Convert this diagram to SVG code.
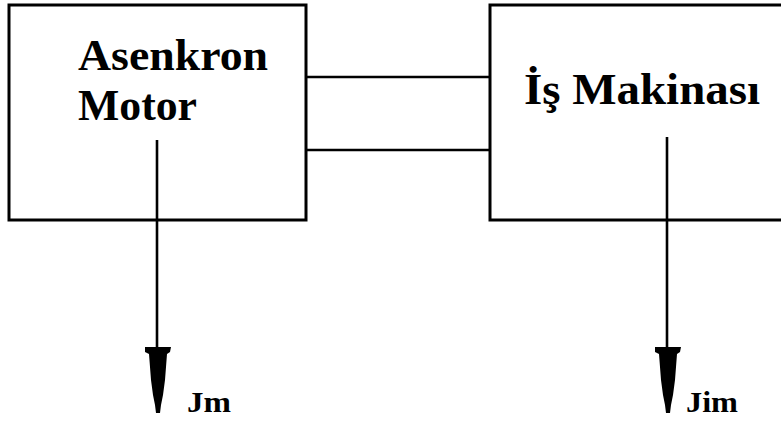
<svg xmlns="http://www.w3.org/2000/svg" xmlns:xlink="http://www.w3.org/1999/xlink" width="781" height="427" viewBox="0 0 781 427">
<style>
.box{fill:#fff;stroke:#000;stroke-width:3}
.ln{stroke:#000;stroke-width:2.6;fill:none}
text{font-family:'Liberation Serif','DejaVu Serif',serif;font-weight:bold;fill:#000}
.big{font-size:44px}
.lab{font-size:30px}
</style>
<defs>
<path id="head" d="M-12,0 H14 L13,5 L10,7 L8,33 L6,48 L4,58 L3,66 H-1 L-2,58 L-4,48 L-6,33 L-8,7 L-12,5 Z" fill="#000"/>
</defs>
<g id="motor">
<rect class="box" x="9" y="5" width="297" height="215"/>
<text class="big" x="78" y="70" textLength="190" lengthAdjust="spacingAndGlyphs">Asenkron</text>
<text class="big" x="78" y="120" textLength="119" lengthAdjust="spacingAndGlyphs">Motor</text>
</g>
<g id="makina">
<rect class="box" x="490" y="5" width="320" height="215"/>
<text class="big" x="524" y="104" textLength="236" lengthAdjust="spacingAndGlyphs">İş Makinası</text>
</g>
<g id="connectors">
<line class="ln" x1="306" y1="77" x2="490" y2="77"/>
<line class="ln" x1="306" y1="150" x2="490" y2="150"/>
<line class="ln" x1="157" y1="140" x2="157" y2="350"/>
<use xlink:href="#head" x="157" y="347"/>
<line class="ln" x1="667" y1="137" x2="667" y2="350"/>
<use xlink:href="#head" x="667" y="347"/>
</g>
<g id="labels">
<text class="lab" x="187" y="412" textLength="44" lengthAdjust="spacingAndGlyphs">Jm</text>
<text class="lab" x="686" y="412" textLength="52" lengthAdjust="spacingAndGlyphs">Jim</text>
</g>
</svg>
